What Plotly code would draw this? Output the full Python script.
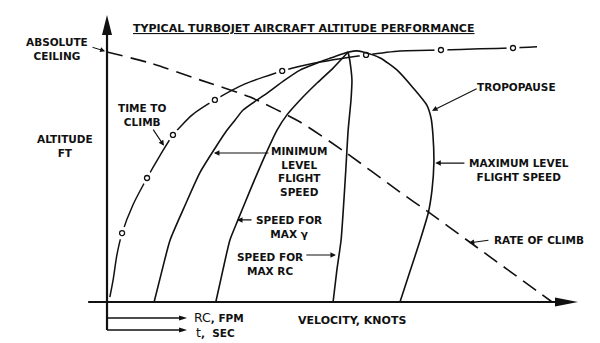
import plotly.graph_objects as go

# Schematic altitude/velocity diagram in relative units (0..100 along each axis arrow)
X_RANGE = [-22.72, 104.67]
Y_RANGE = [-14.29, 105.23]
W, H = 600, 343
SX = W / (X_RANGE[1] - X_RANGE[0])   # px per x unit
SY = H / (Y_RANGE[1] - Y_RANGE[0])   # px per y unit

# Minimum level flight speed vs altitude
min_level_v = [10.0, 11.7, 13.4, 16.6, 19.7, 23.1, 25.5, 27.2, 28.9, 34.0, 37.8, 41.0, 46.3, 51.2]
min_level_h = [0, 11.1, 21.6, 33.8, 45.0, 54.0, 59.9, 63.4, 66.9, 72.8, 77.4, 80.8, 84.3, 87.1]

# Speed for maximum climb angle
max_gamma_v = [23.1, 24.6, 26.1, 27.8, 30.4, 33.6, 36.1, 38.2, 41.0, 44.6, 48.0, 51.2]
max_gamma_h = [0, 11.1, 21.6, 28.6, 39.0, 51.2, 59.9, 65.2, 70.4, 76.3, 81.5, 87.1]

# Speed for maximum rate of climb
max_rc_v = [48.0, 48.8, 49.7, 50.3, 50.7, 51.2, 51.8, 52.0, 51.6, 51.2]
max_rc_h = [0, 11.1, 21.6, 35.5, 46.0, 59.9, 70.4, 77.4, 83.6, 87.1]

# Maximum level flight speed
max_level_v = [51.2, 52.9, 54.4, 58.0, 61.6, 65.0, 67.9, 68.8, 69.2, 69.4, 69.0, 68.2, 66.5, 64.3, 62.2]
max_level_h = [87.1, 87.5, 87.1, 85.0, 80.8, 74.6, 68.6, 64.1, 58.2, 48.4, 39.0, 31.0, 21.6, 10.5, 0]

# Rate of climb (lower scale) vs altitude
roc_v = [0, 9.1, 19.7, 30.4, 41.0, 50.5, 62.2, 68.2, 76.4, 94.5]
roc_h = [87.1, 83.3, 77.4, 71.4, 62.7, 52.3, 38.3, 31.4, 21.6, 0]

# Time to climb (lower scale) vs altitude
ttc_v = [0.6, 1.3, 2.1, 3.2, 5.5, 8.5, 11.3, 14.0, 18.1, 22.9, 29.3, 37.2, 45.2, 55.0, 62.2, 70.9, 79.2, 86.2, 91.3]
ttc_h = [1.7, 7.7, 16.4, 24.0, 33.8, 43.2, 51.2, 58.2, 65.2, 70.4, 76.0, 80.5, 83.6, 86.1, 87.5, 87.8, 88.2, 88.5, 88.9]
ttc_mark_v = [3.2, 8.5, 14.0, 22.9, 37.2, 55.0, 70.9, 86.2]
ttc_mark_h = [24.0, 43.2, 58.2, 70.4, 80.5, 86.1, 87.8, 88.5]

INK = "#111111"
FONT = "DejaVu Sans"

fig = go.Figure()

# time-to-climb: line broken around its open circles
fig.add_trace(go.Scatter(x=ttc_v, y=ttc_h, mode="lines",
                         line=dict(color=INK, width=1.5, shape="spline", smoothing=0.6)))
fig.add_trace(go.Scatter(x=ttc_mark_v, y=ttc_mark_h, mode="markers",
                         marker=dict(size=13, color="white", line=dict(width=0))))
fig.add_trace(go.Scatter(x=ttc_mark_v, y=ttc_mark_h, mode="markers",
                         marker=dict(size=5, color="white", line=dict(color=INK, width=1.3))))

solid = dict(color=INK, width=1.6, shape="spline", smoothing=0.6)
for vx, hy in [(min_level_v, min_level_h), (max_gamma_v, max_gamma_h),
               (max_rc_v, max_rc_h), (max_level_v, max_level_h)]:
    fig.add_trace(go.Scatter(x=vx, y=hy, mode="lines", line=solid))

fig.add_trace(go.Scatter(x=roc_v, y=roc_h, mode="lines",
                         line=dict(color=INK, width=1.6, dash="16px,8px",
                                   shape="spline", smoothing=0.6)))

shapes = []


def arrow_shaft_and_head(x0, y0, x1, y1, head_len, head_half, width):
    """Straight arrow along x or y, head drawn as a filled triangle (sizes in px)."""
    if y0 == y1:  # horizontal
        d = 1 if x1 > x0 else -1
        bx = x1 - d * head_len / SX
        shapes.append(dict(type="line", x0=x0, y0=y0, x1=bx + d * 2 / SX, y1=y1,
                           line=dict(color=INK, width=width)))
        path = f"M{x1},{y1} L{bx},{y1 + head_half / SY} L{bx},{y1 - head_half / SY} Z"
    else:  # vertical
        d = 1 if y1 > y0 else -1
        by = y1 - d * head_len / SY
        shapes.append(dict(type="line", x0=x0, y0=y0, x1=x1, y1=by + d * 2 / SY,
                           line=dict(color=INK, width=width)))
        path = f"M{x1},{y1} L{x1 - head_half / SX},{by} L{x1 + head_half / SX},{by} Z"
    shapes.append(dict(type="path", path=path, fillcolor=INK, line=dict(width=0)))


# main axes
arrow_shaft_and_head(0, -9.76, 0, 100, 20, 5, 2.2)
arrow_shaft_and_head(-4.0, 0, 100, 0, 23, 4.5, 2.2)
# secondary scales below the velocity axis
arrow_shaft_and_head(0, -5.57, 17.0, -5.57, 8, 2.5, 1.4)
arrow_shaft_and_head(0, -9.76, 17.0, -9.76, 8, 2.5, 1.4)

ann = []


def label(text, x, y, xanchor="center", size=10.5):
    ann.append(dict(text=text, x=x, y=y, xref="x", yref="y", showarrow=False,
                    xanchor=xanchor, yanchor="middle", align="center",
                    font=dict(family=FONT, size=size, color=INK)))


def pointer(tail, head, width=1.1, headstyle=2):
    ann.append(dict(text="", x=head[0], y=head[1], ax=tail[0], ay=tail[1],
                    xref="x", yref="y", axref="x", ayref="y", showarrow=True,
                    arrowhead=headstyle, arrowsize=1, arrowwidth=width, arrowcolor=INK,
                    standoff=0, startstandoff=0))


label("<b><u>TYPICAL TURBOJET AIRCRAFT ALTITUDE PERFORMANCE</u></b>", 41.7, 95.4, size=11)
label("<b>ABSOLUTE<br>CEILING</b>", -10.7, 88.2)
label("<b>ALTITUDE<br>FT</b>", -8.9, 54.2)
label("<b>TIME TO<br>CLIMB</b>", 7.6, 65.3)
label("<b>MINIMUM<br>LEVEL<br>FLIGHT<br>SPEED</b>", 40.8, 45.3)
label("<b>SPEED FOR<br>MAX γ</b>", 38.6, 26.3)
label("<b>SPEED FOR<br>MAX RC</b>", 34.6, 13.4)
label("<b>TROPOPAUSE</b>", 87.0, 74.9)
label("<b>MAXIMUM LEVEL<br>FLIGHT SPEED</b>", 87.5, 46.0)
label("<b>RATE OF CLIMB</b>", 91.7, 21.6)
label("<b>VELOCITY, KNOTS</b>", 52.0, -6.6, size=11)
label("<span style='font-size:12.5px'>RC</span><b>, FPM</b>", 18.1, -5.4, xanchor="left")
label("<span style='font-size:12.5px'>t</span><b>,  SEC</b>", 18.4, -10.6, xanchor="left")

pointer((-3.4, 88.9), (-0.4, 87.4), width=1.0, headstyle=2)
pointer((9.6, 60.6), (12.1, 54.4))
pointer((34.6, 51.9), (22.7, 51.9))
pointer((31.0, 28.6), (27.6, 28.6))
pointer((42.0, 16.4), (48.6, 16.4))
pointer((78.8, 74.6), (69.0, 66.6))
pointer((76.2, 48.4), (69.7, 48.4))
pointer((81.3, 21.6), (76.8, 20.6))

fig.update_layout(
    width=W, height=H, autosize=False,
    margin=dict(l=0, r=0, t=0, b=0),
    paper_bgcolor="white", plot_bgcolor="white",
    showlegend=False,
    xaxis=dict(range=X_RANGE, visible=False, fixedrange=True),
    yaxis=dict(range=Y_RANGE, visible=False, fixedrange=True),
    shapes=shapes, annotations=ann,
)

fig.write_html("out.html")
